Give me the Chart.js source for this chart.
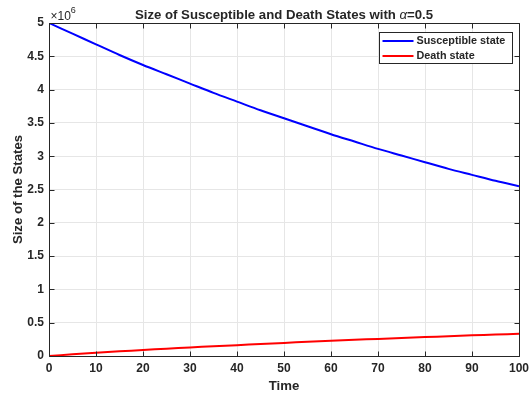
<!DOCTYPE html>
<html>
<head>
<meta charset="utf-8">
<script src="https://cdn.jsdelivr.net/npm/chart.js@4.4.0/dist/chart.umd.min.js"></script>
<style>
  html, body { margin: 0; padding: 0; background: #fff; }
  #wrap { width: 530px; height: 398px; }
</style>
</head>
<body>
<div id="wrap"><canvas id="c" width="530" height="398"></canvas></div>
<script>
// values (states in persons, time in days)
const time = [0, 5, 10, 15, 20, 25, 30, 35, 40, 45, 50, 55, 60, 65, 70, 75, 80, 85, 90, 95, 100];
const susceptible = [5.00e6, 4.84e6, 4.68e6, 4.52e6, 4.37e6, 4.23e6, 4.09e6, 3.95e6, 3.82e6, 3.69e6, 3.57e6,
                     3.45e6, 3.33e6, 3.22e6, 3.11e6, 3.01e6, 2.91e6, 2.81e6, 2.72e6, 2.63e6, 2.55e6];
const death = [0, 0.025e6, 0.048e6, 0.070e6, 0.090e6, 0.110e6, 0.128e6, 0.146e6, 0.163e6, 0.180e6, 0.197e6,
               0.213e6, 0.228e6, 0.243e6, 0.257e6, 0.271e6, 0.284e6, 0.297e6, 0.310e6, 0.322e6, 0.334e6];
const seriesNames = ["Susceptible state", "Death state"];
const seriesColors = ["#0000ff", "#ff0000"];

const FONT = "'Liberation Sans', Arial, Helvetica, sans-serif";
const INK = "#262626";

function pts(ys) {
    return time.map(function (t, i) { return { x: t, y: ys[i] }; });
}

// box, inward ticks, exponent, title and legend the MATLAB way
const matlabAxes = {
    id: "matlabAxes",
    afterDatasetsDraw(chart) {
        const ctx = chart.ctx;
        const a = chart.chartArea;
        const xs = chart.scales.x, ys = chart.scales.y;
        const L = Math.round(a.left) + 0.5, R = Math.round(a.right) + 0.5;
        const T = Math.round(a.top) + 0.5, B = Math.round(a.bottom) + 0.5;
        ctx.save();
        ctx.strokeStyle = INK;
        ctx.lineWidth = 1;
        ctx.beginPath();
        ctx.rect(L, T, R - L, B - T);
        xs.ticks.forEach(function (t) {
            const px = Math.round(xs.getPixelForValue(t.value)) + 0.5;
            ctx.moveTo(px, B); ctx.lineTo(px, B - 5);
            ctx.moveTo(px, T); ctx.lineTo(px, T + 5);
        });
        ys.ticks.forEach(function (t) {
            const py = Math.round(ys.getPixelForValue(t.value)) + 0.5;
            ctx.moveTo(L, py); ctx.lineTo(L + 5, py);
            ctx.moveTo(R, py); ctx.lineTo(R - 5, py);
        });
        ctx.stroke();

        // exponent label
        ctx.fillStyle = INK;
        ctx.textBaseline = "alphabetic";
        ctx.textAlign = "left";
        ctx.font = "12px " + FONT;
        ctx.fillText("\u00d710", L + 1, T - 4);
        const w10 = ctx.measureText("\u00d710").width;
        ctx.font = "9px " + FONT;
        ctx.fillText("6", L + 1 + w10, T - 11);

        // title with italic alpha
        const parts = [
            { t: "Size of Susceptible and Death States with ", f: "bold 13.2px " + FONT },
            { t: "\u03b1", f: "italic 13.2px " + FONT },
            { t: "=0.5", f: "bold 13.2px " + FONT }
        ];
        let total = 0;
        parts.forEach(function (p) { ctx.font = p.f; p.w = ctx.measureText(p.t).width; total += p.w; });
        let x0 = (a.left + a.right) / 2 - total / 2;
        parts.forEach(function (p) { ctx.font = p.f; ctx.fillText(p.t, x0, 19); x0 += p.w; });

        // legend
        const lx = 379.5, ly = 32.5, lw = 133, lh = 31;
        ctx.fillStyle = "#ffffff";
        ctx.fillRect(lx, ly, lw, lh);
        ctx.strokeStyle = INK;
        ctx.strokeRect(lx, ly, lw, lh);
        ctx.font = "bold 10.8px " + FONT;
        ctx.textBaseline = "middle";
        chart.data.datasets.forEach(function (ds, i) {
            const yy = ly + 8.5 + i * 15;
            ctx.strokeStyle = ds.borderColor;
            ctx.lineWidth = 2;
            ctx.beginPath();
            ctx.moveTo(lx + 3, yy); ctx.lineTo(lx + 34, yy);
            ctx.stroke();
            ctx.fillStyle = INK;
            ctx.fillText(ds.label, lx + 37, yy);
        });
        ctx.restore();
    }
};

new Chart(document.getElementById("c"), {
    type: "line",
    data: {
        datasets: [
            { label: seriesNames[0], data: pts(susceptible), borderColor: seriesColors[0], borderWidth: 2,
              pointRadius: 0, tension: 0.3, fill: false },
            { label: seriesNames[1], data: pts(death), borderColor: seriesColors[1], borderWidth: 2,
              pointRadius: 0, tension: 0.3, fill: false }
        ]
    },
    options: {
        responsive: false,
        animation: false,
        layout: { padding: { top: 23, right: 11, left: 0, bottom: 0 } },
        plugins: { legend: { display: false }, title: { display: false }, tooltip: { enabled: false } },
        scales: {
            x: {
                type: "linear", min: 0, max: 100,
                afterFit: function (s) { s.height = 42; s.paddingRight = 0; s.paddingLeft = 0; },
                ticks: { stepSize: 10, padding: 5, color: INK, font: { family: FONT, size: 12, weight: "bold" } },
                grid: { color: "#e6e6e6", drawTicks: false },
                border: { display: false },
                title: { display: true, text: "Time", color: INK, padding: { top: 0, bottom: 4 },
                         font: { family: FONT, size: 13.2, weight: "bold" } }
            },
            y: {
                type: "linear", min: 0, max: 5e6,
                afterFit: function (s) { s.width = 49; s.paddingTop = 0; s.paddingBottom = 0; },
                ticks: { stepSize: 5e5, padding: 5, color: INK, font: { family: FONT, size: 12, weight: "bold" },
                         callback: function (v) { return String(Math.round(v / 1e5) / 10); } },
                grid: { color: "#e6e6e6", drawTicks: false },
                border: { display: false },
                title: { display: true, text: "Size of the States", color: INK, padding: { top: 10, bottom: 0 },
                         font: { family: FONT, size: 13.2, weight: "bold" } }
            }
        }
    },
    plugins: [matlabAxes]
});
</script>
</body>
</html>
